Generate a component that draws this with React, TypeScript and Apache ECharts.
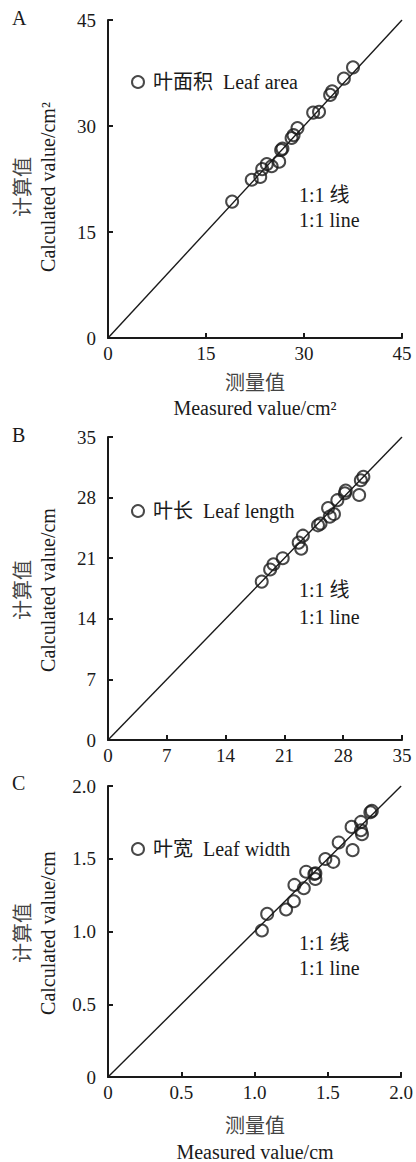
import React, { useEffect, useRef } from "react";
import * as echarts from "echarts";

// Panel A: leaf area (cm²)
const areaMeasured = [19.0, 22.0, 23.3, 23.6, 24.3, 25.05, 26.2, 26.5, 26.7, 28.1, 28.4, 29.0, 31.4, 32.3, 34.0, 34.3, 36.1, 37.5];
const areaCalculated = [19.3, 22.4, 22.8, 23.9, 24.6, 24.3, 24.95, 26.6, 26.8, 28.3, 28.7, 29.7, 31.9, 32.0, 34.4, 34.9, 36.7, 38.3];
const areaTicks = ["0", "15", "30", "45"];

// Panel B: leaf length (cm)
const lengthMeasured = [18.3, 19.3, 19.7, 20.8, 22.7, 23.0, 23.2, 25.0, 25.3, 26.2, 26.4, 26.9, 27.3, 28.3, 28.2, 29.9, 30.1, 30.4];
const lengthCalculated = [18.3, 19.7, 20.3, 21.0, 22.8, 22.1, 23.6, 24.8, 25.0, 26.8, 25.8, 26.1, 27.7, 28.8, 28.5, 28.3, 30.0, 30.4];
const lengthTicks = ["0", "7", "14", "21", "28", "35"];

// Panel C: leaf width (cm)
const widthMeasured = [1.05, 1.086, 1.215, 1.268, 1.272, 1.336, 1.352, 1.408, 1.415, 1.415, 1.483, 1.537, 1.574, 1.662, 1.669, 1.726, 1.726, 1.733, 1.8, 1.79];
const widthCalculated = [1.007, 1.121, 1.151, 1.208, 1.32, 1.297, 1.411, 1.395, 1.361, 1.4, 1.498, 1.479, 1.612, 1.719, 1.559, 1.753, 1.696, 1.669, 1.829, 1.82];
const widthTicks = ["0", "0.5", "1.0", "1.5", "2.0"];

const seriesNames = ["叶面积  Leaf area", "叶长  Leaf length", "叶宽  Leaf width"];
const panelLetters = ["A", "B", "C"];
const axisMax = [45, 35, 2];
const axisInterval = [15, 7, 0.5];

const FONT = "'Liberation Serif', 'Times New Roman', 'Noto Sans CJK SC', serif";
const INK = "#1a1a1a";
const CJK_INK = "#444";

export default function App() {
  const ref = useRef<HTMLDivElement>(null);
  useEffect(() => {
    if (!ref.current) return;
    const chart = echarts.init(ref.current, undefined, { renderer: "svg" });

    const grids = [
      { left: 108, top: 20, width: 294, height: 318 },
      { left: 108, top: 437, width: 294, height: 303 },
      { left: 108, top: 786, width: 294, height: 291 },
    ];
    const tickSets = [areaTicks, lengthTicks, widthTicks];
    const measured = [areaMeasured, lengthMeasured, widthMeasured];
    const calculated = [areaCalculated, lengthCalculated, widthCalculated];

    const axisCommon = (i: number) => ({
      type: "value" as const,
      gridIndex: i,
      min: 0,
      max: axisMax[i],
      interval: axisInterval[i],
      splitLine: { show: false },
      axisLine: { show: true, onZero: false, lineStyle: { color: INK, width: 2 } },
      axisTick: { show: true, inside: true, length: 5, lineStyle: { color: INK, width: 2 } },
      axisLabel: {
        color: INK,
        fontFamily: FONT,
        fontSize: 19,
        formatter: (v: number, idx: number) => tickSets[i][idx] ?? String(v),
      },
    });

    const xAxis = [0, 1, 2].map((i) => {
      const a: any = axisCommon(i);
      a.axisLabel.margin = 6;
      return a;
    });
    const yAxis = [0, 1, 2].map((i) => {
      const a: any = axisCommon(i);
      a.axisLabel.margin = 12;
      return a;
    });

    const series: any[] = [];
    [0, 1, 2].forEach((i) => {
      series.push({
        type: "line",
        xAxisIndex: i,
        yAxisIndex: i,
        data: [
          [0, 0],
          [axisMax[i], axisMax[i]],
        ],
        symbol: "none",
        lineStyle: { color: INK, width: 1.4 },
        silent: true,
        z: 1,
      });
      series.push({
        type: "scatter",
        name: seriesNames[i],
        xAxisIndex: i,
        yAxisIndex: i,
        data: measured[i].map((m, k) => [m, calculated[i][k]]),
        symbol: "circle",
        symbolSize: 12,
        itemStyle: { color: "rgba(255,255,255,0)", borderColor: INK, borderWidth: 2 },
        z: 3,
      });
    });

    const legendTops = [72, 501, 839];
    const legend = [0, 1, 2].map((i) => ({
      data: [seriesNames[i]],
      left: 131,
      top: legendTops[i],
      padding: 0,
      icon: "circle",
      itemWidth: 12,
      itemHeight: 12,
      itemStyle: { color: "rgba(255,255,255,0)", borderColor: INK, borderWidth: 2 },
      textStyle: { color: INK, fontFamily: FONT, fontSize: 20, padding: [0, 0, 0, 4] },
      selectedMode: false,
    }));

    const texts: any[] = [];
    const letterY = [18, 435, 783];
    const yNameY = [187, 590, 933];
    const lineTextY = [
      [195, 220],
      [590, 617],
      [943, 968],
    ];
    const yUnits = ["Calculated value/cm²", "Calculated value/cm", "Calculated value/cm"];
    [0, 1, 2].forEach((i) => {
      texts.push({
        type: "text",
        left: 12,
        top: letterY[i] - 10,
        style: { text: panelLetters[i], fill: INK, font: `20px ${FONT}` },
      });
      texts.push({
        type: "text",
        x: 23,
        y: yNameY[i],
        rotation: Math.PI / 2,
        style: { text: "计算值", fill: CJK_INK, font: `20px ${FONT}`, align: "center", verticalAlign: "middle" },
      });
      texts.push({
        type: "text",
        x: 48,
        y: yNameY[i],
        rotation: Math.PI / 2,
        style: { text: yUnits[i], fill: INK, font: `20px ${FONT}`, align: "center", verticalAlign: "middle" },
      });
      texts.push({
        type: "text",
        x: 299,
        y: lineTextY[i][0],
        style: { text: "1:1 线", fill: INK, font: `20px ${FONT}`, align: "left", verticalAlign: "middle" },
      });
      texts.push({
        type: "text",
        x: 299,
        y: lineTextY[i][1],
        style: { text: "1:1 line", fill: INK, font: `20px ${FONT}`, align: "left", verticalAlign: "middle" },
      });
    });
    const xNames = [
      { y1: 383, y2: 408, unit: "Measured value/cm²" },
      { y1: 1126, y2: 1152, unit: "Measured value/cm" },
    ];
    xNames.forEach((n) => {
      texts.push({
        type: "text",
        x: 255,
        y: n.y1,
        style: { text: "测量值", fill: CJK_INK, font: `20px ${FONT}`, align: "center", verticalAlign: "middle" },
      });
      texts.push({
        type: "text",
        x: 255,
        y: n.y2,
        style: { text: n.unit, fill: INK, font: `20px ${FONT}`, align: "center", verticalAlign: "middle" },
      });
    });

    chart.setOption({
      animation: false,
      backgroundColor: "#ffffff",
      grid: grids,
      xAxis,
      yAxis,
      series,
      legend,
      graphic: texts,
    });
    return () => chart.dispose();
  }, []);
  return <div ref={ref} style={{ position: "absolute", left: 0, top: 0, width: 416, height: 1162 }} />;
}
